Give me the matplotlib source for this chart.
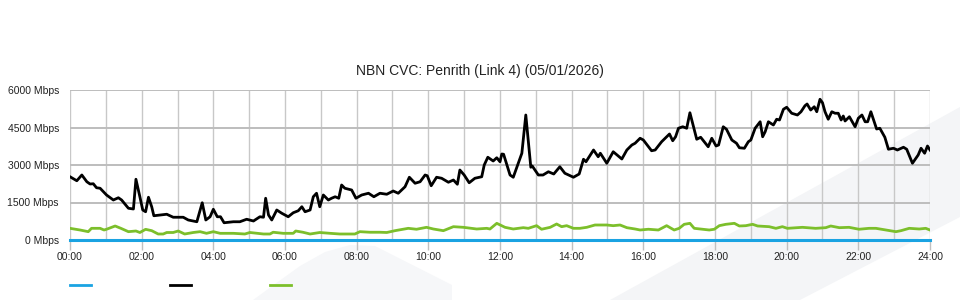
import matplotlib
matplotlib.use("Agg")
import matplotlib.pyplot as plt
from matplotlib.patches import Polygon

plt.rcParams['font.family'] = ['Liberation Sans', 'DejaVu Sans']

title = "NBN CVC: Penrith (Link 4) (05/01/2026)"
x_ticks = [0, 2, 4, 6, 8, 10, 12, 14, 16, 18, 20, 22, 24]
x_tick_labels = ["00:00", "02:00", "04:00", "06:00", "08:00", "10:00", "12:00",
                 "14:00", "16:00", "18:00", "20:00", "22:00", "24:00"]
y_ticks = [0, 1500, 3000, 4500, 6000]
y_tick_labels = ["0 Mbps", "1500 Mbps", "3000 Mbps", "4500 Mbps", "6000 Mbps"]

# black series (hours, Mbps)
black_t = [0.00, 0.19, 0.33, 0.47, 0.56, 0.65, 0.74, 0.84, 1.02, 1.21, 1.35, 1.44,
           1.63, 1.77, 1.84, 1.95, 2.03, 2.11, 2.19, 2.28, 2.34, 2.51, 2.70, 2.88,
           3.16, 3.30, 3.54, 3.69, 3.79, 3.91, 4.00, 4.11, 4.20, 4.30, 4.56, 4.74,
           4.93, 5.12, 5.30, 5.40, 5.46, 5.54, 5.63, 5.77, 5.91, 6.09, 6.23, 6.37,
           6.47, 6.56, 6.70, 6.79, 6.88, 6.97, 7.07, 7.21, 7.30, 7.40, 7.50, 7.58,
           7.67, 7.86, 7.98, 8.14, 8.33, 8.48, 8.65, 8.84, 9.02, 9.16, 9.35, 9.47,
           9.63, 9.77, 9.91, 9.97, 10.08, 10.23, 10.37, 10.56, 10.70, 10.81, 10.88, 11.00,
           11.14, 11.30, 11.49, 11.56, 11.66, 11.81, 11.91, 12.00, 12.05, 12.10, 12.28, 12.37,
           12.61, 12.72, 12.86, 12.90, 13.07, 13.20, 13.35, 13.50, 13.67, 13.81, 14.05, 14.21,
           14.33, 14.40, 14.61, 14.74, 14.80, 14.98, 15.16, 15.40, 15.54, 15.68, 15.77, 15.91,
           16.00, 16.23, 16.33, 16.51, 16.73, 16.82, 16.90, 16.98, 17.10, 17.21, 17.30, 17.49,
           17.60, 17.81, 17.91, 18.03, 18.10, 18.23, 18.32, 18.47, 18.60, 18.68, 18.82, 18.93,
           19.00, 19.12, 19.26, 19.33, 19.40, 19.49, 19.63, 19.72, 19.80, 19.91, 20.00, 20.14,
           20.30, 20.40, 20.51, 20.57, 20.67, 20.77, 20.84, 20.93, 21.00, 21.07, 21.16, 21.26,
           21.35, 21.44, 21.52, 21.58, 21.63, 21.75, 21.91, 22.00, 22.10, 22.19, 22.26, 22.35,
           22.51, 22.60, 22.74, 22.84, 22.98, 23.09, 23.20, 23.26, 23.35, 23.51, 23.67, 23.75,
           23.85, 23.93, 24.00]
black_v = [2530, 2370, 2600, 2330, 2240, 2250, 2090, 2070, 1800, 1600, 1690, 1600,
           1270, 1240, 2430, 1730, 1200, 1130, 1710, 1330, 970, 1000, 1030, 910,
           910, 800, 730, 1490, 800, 930, 1230, 930, 930, 690, 730, 730,
           830, 760, 930, 910, 1670, 1000, 800, 1200, 1070, 930, 1090, 1170,
           1330, 1130, 1200, 1730, 1870, 1330, 1800, 1600, 1670, 1730, 1670, 2200,
           2070, 2000, 1670, 1800, 1870, 1730, 1870, 1830, 1960, 1870, 2130, 2510,
           2270, 2330, 2600, 2570, 2170, 2510, 2470, 2310, 2400, 2230, 2800, 2600,
           2290, 2470, 2530, 3000, 3310, 3160, 3290, 3130, 3440, 3430, 2600, 2510,
           3470, 5000, 2910, 2960, 2600, 2600, 2730, 2640, 2930, 2670, 2510, 2640,
           3230, 3130, 3600, 3330, 3470, 3070, 3530, 3240, 3600, 3800, 3870, 4070,
           4000, 3570, 3600, 3930, 4240, 3970, 4130, 4470, 4530, 4470, 5090, 4030,
           4110, 3730, 4070, 3760, 3800, 4530, 4430, 4000, 3870, 3690, 3670, 3930,
           4000, 4470, 4730, 4130, 4330, 4730, 4600, 4830, 4800, 5230, 5310, 5070,
           5000, 5130, 5370, 5440, 5200, 5330, 5130, 5630, 5490, 5130, 4830, 5130,
           5070, 5070, 4800, 4960, 4760, 4930, 4530, 4870, 5000, 4730, 4730, 5130,
           4440, 4470, 4110, 3630, 3670, 3600, 3670, 3710, 3630, 3070, 3400, 3670,
           3470, 3760, 3600]

# green series (hours, Mbps)
green_t = [0.00, 0.28, 0.51, 0.60, 0.84, 0.95, 1.02, 1.26, 1.42, 1.63, 1.84, 1.95,
           2.11, 2.28, 2.46, 2.60, 2.70, 2.88, 3.02, 3.20, 3.44, 3.63, 3.81, 4.00,
           4.19, 4.56, 4.88, 5.02, 5.40, 5.58, 5.67, 5.95, 6.23, 6.30, 6.50, 6.70,
           6.97, 7.26, 7.53, 7.95, 8.09, 8.37, 8.65, 8.84, 9.07, 9.44, 9.67, 9.95,
           10.14, 10.42, 10.70, 10.98, 11.35, 11.63, 11.72, 11.91, 12.14, 12.37, 12.65, 12.79,
           13.02, 13.16, 13.40, 13.58, 13.72, 13.86, 14.05, 14.23, 14.42, 14.65, 14.98, 15.16,
           15.35, 15.54, 15.77, 15.91, 16.14, 16.42, 16.65, 16.86, 17.00, 17.14, 17.30, 17.42,
           17.84, 17.98, 18.12, 18.30, 18.54, 18.68, 18.86, 19.05, 19.19, 19.51, 19.70, 19.88,
           20.02, 20.44, 20.81, 21.09, 21.23, 21.47, 21.74, 22.02, 22.30, 22.49, 22.77, 23.05,
           23.19, 23.42, 23.70, 23.88, 24.00]
green_v = [467, 400, 333, 467, 467, 400, 430, 560, 467, 333, 360, 300,
           427, 373, 240, 240, 300, 300, 360, 240, 300, 333, 267, 333,
           267, 267, 240, 300, 240, 240, 310, 267, 267, 360, 310, 240,
           300, 267, 240, 240, 333, 310, 310, 300, 373, 467, 430, 507,
           440, 373, 533, 507, 440, 467, 440, 667, 507, 440, 493, 467,
           573, 430, 507, 640, 533, 573, 467, 467, 507, 600, 600, 573,
           600, 493, 440, 400, 430, 400, 573, 400, 467, 627, 667, 467,
           400, 430, 573, 627, 667, 560, 573, 627, 560, 533, 467, 533,
           467, 507, 467, 493, 560, 493, 507, 430, 467, 467, 400, 333,
           373, 467, 440, 467, 400]

# blue series (hours, Mbps)
blue_t = [0, 6, 12, 18, 24]
blue_v = [0, 0, 0, 0, 0]

W, H = 960, 300
fig = plt.figure(figsize=(9.6, 3.0), dpi=100)
fig.patch.set_facecolor('white')

# faint watermark shapes (figure pixel coords, y from top)
def fpoly(pts, **kw):
    return Polygon([(x / W, 1 - y / H) for x, y in pts], closed=True,
                   transform=fig.transFigure, **kw)

fig.patches.append(fpoly([(610, 300), (960, 107), (960, 217), (800, 300)],
                         facecolor='#f4f5f7', edgecolor='none', zorder=-5))
fig.patches.append(fpoly([(253, 300), (275, 284), (300, 266), (325, 252), (350, 245),
                          (375, 246), (452, 285), (452, 300)],
                         facecolor='#f6f7f9', edgecolor='none', zorder=-5))

ax = fig.add_axes([70 / W, 1 - 240 / H, 860 / W, 150 / H])
ax.set_zorder(2)
ax.patch.set_alpha(0)

ax.set_xlim(0, 24)
ax.set_ylim(0, 6000)

# grid
for h in range(0, 25):
    ax.axvline(h, color='#c8c8c8', lw=1.0, zorder=1)
for v in y_ticks:
    ax.axhline(v, color='#bdbdbd', lw=1.4, zorder=1)

ax.plot(green_t, green_v, color='#7cbf2b', lw=2.0, zorder=3, solid_joinstyle='round')
ax.plot(black_t, black_v, color='#000000', lw=2.0, zorder=4, solid_joinstyle='round')
ax.plot(blue_t, blue_v, color='#1aa3e2', lw=2.2, zorder=5, clip_on=False)

for s in ax.spines.values():
    s.set_visible(False)

ax.set_xticks(x_ticks)
ax.set_xticklabels(x_tick_labels, fontsize=7.5, color='#222222')
ax.tick_params(axis='x', length=7, width=1, color='#c0c0c0', pad=2)
ax.set_yticks(y_ticks)
ax.set_yticklabels(y_tick_labels, fontsize=7.5, color='#222222')
ax.tick_params(axis='y', length=0, pad=8)

fig.text(0.5, 1 - 71 / H, title, ha='center', va='center', fontsize=10, color='#222222')

# legend symbols (no labels)
for x0, c in [(70, '#1aa3e2'), (170, '#000000'), (270, '#7cbf2b')]:
    fig.add_artist(plt.Line2D([x0 / W, (x0 + 21) / W], [1 - 285 / H, 1 - 285 / H],
                              transform=fig.transFigure, color=c, lw=2))

fig.savefig('out.png', dpi=100, facecolor='white')
